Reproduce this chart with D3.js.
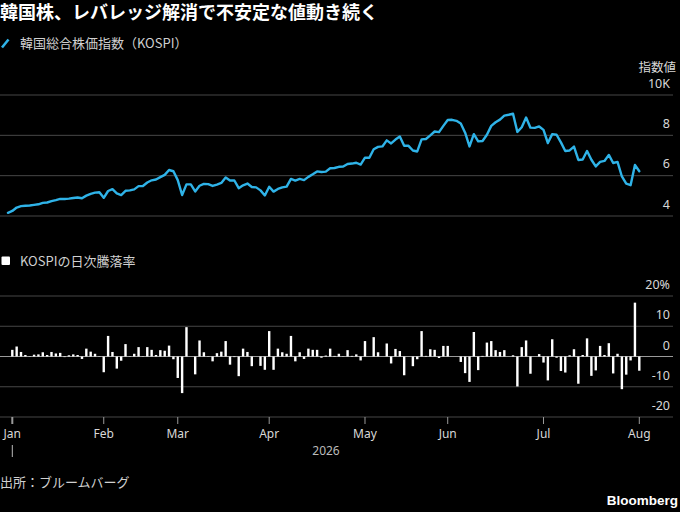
<!DOCTYPE html>
<html>
<head>
<meta charset="utf-8">
<script src="https://cdn.jsdelivr.net/npm/d3@7"></script>
<style>
  html, body { margin: 0; padding: 0; background: #000; }
  svg { display: block; }
</style>
</head>
<body>
<script>
// ---- Data (index 0 = last session before Jan, then trading days) ----
const kospi = [
4.16, 4.25, 4.42, 4.49, 4.51, 4.52, 4.55, 4.58, 4.65, 4.67,
4.74, 4.79, 4.85, 4.84, 4.86, 4.89, 4.92, 4.88, 5.01, 5.10,
5.16, 5.18, 4.90, 5.24, 5.33, 5.12, 5.04, 5.25, 5.27, 5.32,
5.48, 5.49, 5.66, 5.77, 5.81, 5.93, 6.04, 6.28, 6.22, 5.78,
5.04, 5.57, 5.57, 5.22, 5.50, 5.59, 5.58, 5.49, 5.56, 5.64,
5.91, 5.76, 5.76, 5.38, 5.52, 5.61, 5.44, 5.42, 5.27, 5.02,
5.45, 5.21, 5.34, 5.42, 5.46, 5.84, 5.76, 5.84, 5.78, 5.94,
6.07, 6.21, 6.18, 6.20, 6.37, 6.38, 6.44, 6.45, 6.58, 6.60,
6.64, 6.55, 6.89, 6.89, 7.31, 7.43, 7.45, 7.75, 7.60, 7.79,
7.94, 7.48, 7.48, 7.25, 7.20, 7.80, 7.82, 8.00, 8.19, 8.16,
8.47, 8.76, 8.77, 8.72, 8.59, 8.13, 7.45, 8.06, 7.70, 7.72,
8.03, 8.47, 8.65, 8.78, 8.98, 9.02, 9.07, 8.17, 8.40, 8.88,
8.38, 8.37, 8.44, 8.27, 7.62, 8.06, 8.03, 7.65, 7.22, 7.25,
7.44, 6.78, 6.80, 7.22, 6.79, 6.46, 6.68, 6.73, 7.03, 6.63,
6.68, 5.96, 5.60, 5.53, 6.53, 6.22
];
// daily change (%) for sessions 1..145
const dailyChange = [
2.2, 3.3, 1.5, 0.5, 0.1, 0.6, 0.7, 1.4, 0.5, 1.5,
1.0, 1.2, -0.2, 0.4, 0.7, 0.5, -0.8, 2.6, 1.6, 0.9,
0.1, -5.2, 6.8, 1.5, -4.0, -1.4, 4.1, 0.1, 0.9, 3.1,
0.1, 3.1, 2.2, 0.5, 2.1, 1.9, 3.6, -0.9, -7.1, -12.1,
9.7, 0, -5.9, 5.3, 1.4, -0.1, -1.6, 1.1, 1.6, 5.1,
-2.7, -0.2, -6.5, 2.6, 1.5, -3.2, 0, -3.1, -4.4, 8.4,
-4.4, 2.6, 1.4, 0.9, 6.8, -1.6, 1.4, -0.8, 2.6, 2.2,
2.2, -0.4, 0.3, 2.6, 0.2, 0.9, 0.1, 2.1, 0.2, 0.7,
-1.3, 5.1, 0, 6.4, 1.4, 0, 4.3, -2.3, 2.5, 1.8,
-6.2, 0, -3.2, -0.9, 8.4, 0.2, 2.4, 2.2, -0.5, 3.5,
3.5, 0, 0, -1.8, -5.5, -8.4, 8.1, -4.5, 0.2, 4.6,
5.1, 2.1, 1.5, 2.1, 0, 0.4, -9.9, 3.1, 5.3, -5.7,
0, 0.8, -2.0, -7.9, 5.7, -0.4, -4.8, -5.3, 0.4, 2.4,
-9.0, 0.5, 6.0, -6.4, -4.6, 3.5, 0.5, 4.4, -5.6, 0.9,
-10.8, -6.0, -1.3, 17.8, -4.7
];
const monthLabels = ["Jan", "Feb", "Mar", "Apr", "May", "Jun", "Jul", "Aug"];
const monthIndex = [1, 22, 39, 60, 82, 101, 123, 145];
const topTicks = [4, 6, 8, 10];
const topTickLabels = ["4", "6", "8", "10K"];
const botTicks = [-20, -10, 0, 10, 20];
const botTickLabels = ["-20", "-10", "0", "10", "20%"];

const titleText = "韓国株、レバレッジ解消で不安定な値動き続く";
const legend1 = "韓国総合株価指数（KOSPI）";
const legend2 = "KOSPIの日次騰落率";
const topUnit = "指数値";
const yearLabel = "2026";
const sourceText = "出所：ブルームバーグ";

// ---- Drawing ----
const W = 680, H = 512;
const BLUE = "#2fb3e8";
const GRID = "#474747";
const latin = "'Noto Sans', 'Liberation Sans', sans-serif";
const cjk = "'Noto Sans CJK JP', 'Noto Sans', sans-serif";

const svg = d3.select("body").append("svg").attr("width", W).attr("height", H)
  .style("background", "#000");

const x = d3.scaleLinear().domain([0, kospi.length - 1]).range([7.95, 639.3]);
const yTop = d3.scaleLinear().domain([4, 10]).range([216, 95]);
const yBot = d3.scaleLinear().domain([-20, 20]).range([417, 296]);
const gridX0 = 0, gridX1 = 673, labelX = 670;

// Title
svg.append("text").attr("x", 0).attr("y", 18.5)
  .attr("fill", "#fff").attr("font-family", cjk).attr("font-weight", 700)
  .attr("font-size", 18).text(titleText);

// Legend 1
svg.append("line").attr("x1", 2).attr("y1", 47.5).attr("x2", 8.5).attr("y2", 39.5)
  .attr("stroke", BLUE).attr("stroke-width", 2.6);
svg.append("text").attr("x", 20).attr("y", 47.5).attr("fill", "#d0d0d0")
  .attr("font-family", cjk).attr("font-size", 13).text(legend1);

// Top chart grid + labels
const gTop = svg.append("g");
gTop.selectAll("line.grid").data(topTicks).join("line")
  .attr("x1", gridX0).attr("x2", gridX1)
  .attr("y1", d => yTop(d)).attr("y2", d => yTop(d))
  .attr("stroke", GRID).attr("stroke-width", 1);
gTop.selectAll("text.tl").data(topTicks).join("text")
  .attr("x", labelX).attr("y", d => yTop(d) - 7.5)
  .attr("text-anchor", "end").attr("fill", "#d8d8d8")
  .attr("font-family", latin).attr("font-size", 12.5)
  .text((d, i) => topTickLabels[i]);
svg.append("text").attr("x", 676).attr("y", 72).attr("text-anchor", "end")
  .attr("fill", "#d8d8d8").attr("font-family", cjk).attr("font-size", 12.5).text(topUnit);

// Line
const line = d3.line().x((d, i) => x(i)).y(d => yTop(d));
svg.append("path").datum(kospi).attr("d", line)
  .attr("fill", "none").attr("stroke", BLUE).attr("stroke-width", 2.4)
  .attr("stroke-linejoin", "round").attr("stroke-linecap", "round");

// Legend 2
svg.append("rect").attr("x", 1.5).attr("y", 256.5).attr("width", 8.5).attr("height", 8.5)
  .attr("rx", 1).attr("fill", "#fff");
svg.append("text").attr("x", 20).attr("y", 265.5).attr("fill", "#d0d0d0")
  .attr("font-family", cjk).attr("font-size", 13).text(legend2);

// Bottom chart grid + labels
const gBot = svg.append("g");
gBot.selectAll("line.grid").data(botTicks).join("line")
  .attr("x1", gridX0).attr("x2", gridX1)
  .attr("y1", d => yBot(d)).attr("y2", d => yBot(d))
  .attr("stroke", d => d === 0 ? "#9a9a9a" : GRID).attr("stroke-width", 1);
gBot.selectAll("text.tl").data(botTicks).join("text")
  .attr("x", labelX).attr("y", d => yBot(d) - 7)
  .attr("text-anchor", "end").attr("fill", "#d8d8d8")
  .attr("font-family", latin).attr("font-size", 12.5)
  .text((d, i) => botTickLabels[i]);

// Bars
const barW = 2.4;
svg.append("g").selectAll("rect").data(dailyChange).join("rect")
  .attr("x", (d, i) => x(i + 1) - barW / 2)
  .attr("width", barW)
  .attr("y", d => yBot(Math.max(0, d)))
  .attr("height", d => Math.abs(yBot(d) - yBot(0)))
  .attr("fill", "#fff");

// X axis ticks and labels
const gx = svg.append("g");
gx.selectAll("line").data(monthIndex).join("line")
  .attr("x1", d => x(d)).attr("x2", d => x(d))
  .attr("y1", 417).attr("y2", 424)
  .attr("stroke", "#999").attr("stroke-width", (d, i) => i === 0 ? 2 : 1);
gx.selectAll("text").data(monthIndex).join("text")
  .attr("x", d => x(d)).attr("y", 437.5).attr("text-anchor", "middle")
  .attr("fill", "#d8d8d8").attr("font-family", latin).attr("font-size", 12)
  .text((d, i) => monthLabels[i]);
// year marker
svg.append("line").attr("x1", x(monthIndex[0])).attr("x2", x(monthIndex[0]))
  .attr("y1", 445).attr("y2", 457).attr("stroke", "#bbb").attr("stroke-width", 1);
svg.append("text").attr("x", 326).attr("y", 455).attr("text-anchor", "middle")
  .attr("fill", "#bbb").attr("font-family", latin).attr("font-size", 12).text(yearLabel);

// Source + logo
svg.append("text").attr("x", 0).attr("y", 487).attr("fill", "#d0d0d0")
  .attr("font-family", cjk).attr("font-size", 13).text(sourceText);
svg.append("text").attr("x", 678).attr("y", 505).attr("text-anchor", "end")
  .attr("fill", "#fff").attr("font-family", "'Liberation Sans', Arial, sans-serif")
  .attr("font-weight", 700).attr("font-size", 13.5).text("Bloomberg");
</script>
</body>
</html>
